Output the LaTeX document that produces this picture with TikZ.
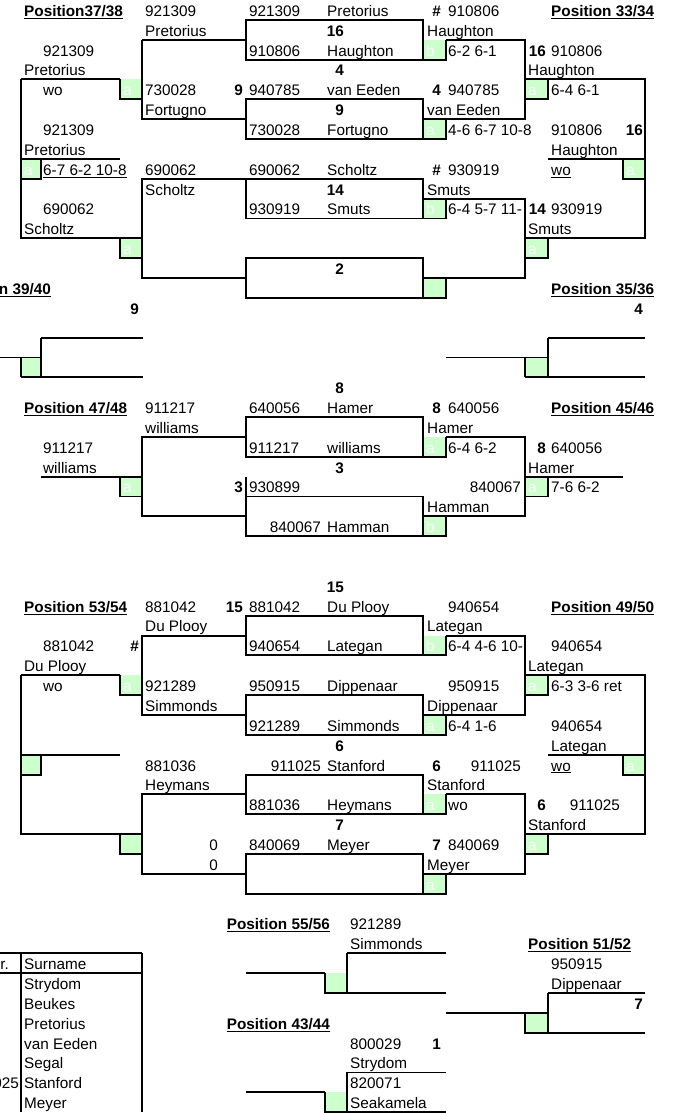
\documentclass[tikz,border=0pt]{standalone}
\usepackage{fontspec}
\setmainfont{Liberation Sans}

\definecolor{cellgreen}{RGB}{204,255,204}

\newcounter{cellno}
\newcommand{\cell}[4][]{\stepcounter{cellno}\node[txt,#1] (c\arabic{cellno}) at (#2,#3+0.82) {#4};}
\newcommand{\gbox}[3]{\fill[cellgreen] (#1,#3) rectangle (#2,#3+1);}

\begin{document}
\fontsize{15.3}{18}\selectfont
\begin{tikzpicture}[x=1pt, y=-19.86pt,
  txt/.style={anchor=base west, inner sep=0pt},
  rgt/.style={anchor=base east},
  seed/.style={anchor=base east, font=\bfseries},
  posn/.style={font=\bfseries},
  lett/.style={text=white},
  brd/.style={line width=1.9pt, line join=miter}]
  \useasboundingbox (0,0) rectangle (680,56.04);
  \clip (0,0) rectangle (680,56.04);

  % green cells
  \gbox{423}{446}{2} \gbox{120}{142}{4} \gbox{525}{548}{4} \gbox{423}{446}{6}
  \gbox{21}{41}{8} \gbox{623}{645}{8} \gbox{423}{446}{10} \gbox{120}{142}{12}
  \gbox{525}{548}{12} \gbox{423}{446}{14} \gbox{21}{41}{18} \gbox{525}{548}{18}
  \gbox{423}{446}{22} \gbox{120}{142}{24} \gbox{525}{548}{24} \gbox{423}{446}{26}
  \gbox{423}{446}{32} \gbox{120}{142}{34} \gbox{525}{548}{34} \gbox{423}{446}{36}
  \gbox{21}{41}{38} \gbox{623}{645}{38} \gbox{423}{446}{40} \gbox{120}{142}{42}
  \gbox{525}{548}{42} \gbox{423}{446}{44} \gbox{325}{347}{49} \gbox{525}{548}{51}
  \gbox{325}{347}{55}

  % top section
  \draw[brd] (21,4) -- (120,4);
  \draw[brd] (21,4) -- (21,12) -- (142,12);
  \draw[brd] (120,4) -- (120,5) -- (142,5);
  \draw[brd] (120,12) -- (120,13) -- (142,13);
  \draw[brd] (21,8) -- (120,8);
  \draw[brd] (41,8) -- (41,9) -- (21,9);
  \draw[brd] (142,2) -- (246,2);
  \draw[brd] (142,2) -- (142,6) -- (246,6);
  \draw[brd] (246,1) rectangle (423,3);
  \draw[brd] (446,2) -- (446,3) -- (423,3);
  \draw[brd] (246,5) rectangle (423,7);
  \draw[brd] (446,6) -- (446,7) -- (423,7);
  \draw[brd] (446,2) -- (525,2) -- (525,6) -- (423,6);
  \draw[brd] (246,9) rectangle (423,11);
  \draw[brd] (246,9) -- (142,9) -- (142,14) -- (246,14);
  \draw[brd] (446,10) -- (446,11) -- (423,11);
  \draw[brd] (423,10) -- (525,10) -- (525,14) -- (423,14);
  \draw[brd] (246,13) rectangle (423,15);
  \draw[brd] (423,15) -- (446,15) -- (446,14);
  \draw[brd] (525,4) -- (645,4) -- (645,12) -- (525,12);
  \draw[brd] (548,4) -- (548,5) -- (525,5);
  \draw[brd] (548,12) -- (548,13) -- (525,13);
  \draw[brd] (548,8) -- (645,8);
  \draw[brd] (623,8) -- (623,9) -- (645,9);

  % positions 39/40 and 35/36
  \draw[brd] (0,18) -- (41,18);
  \draw[brd] (21,18) -- (21,19);
  \draw[brd] (41,17) -- (41,19);
  \draw[brd] (41,17) -- (143,17);
  \draw[brd] (21,19) -- (143,19);
  \draw[brd] (446,18) -- (548,18);
  \draw[brd] (525,18) -- (525,19);
  \draw[brd] (548,17) -- (548,19);
  \draw[brd] (548,17) -- (645,17);
  \draw[brd] (525,19) -- (645,19);

  % middle section
  \draw[brd] (246,21) rectangle (423,23);
  \draw[brd] (446,22) -- (446,23) -- (423,23);
  \draw[brd] (446,22) -- (525,22) -- (525,26) -- (423,26);
  \draw[brd] (246,22) -- (142,22) -- (142,26) -- (246,26);
  \draw[brd] (41,24) -- (142,24);
  \draw[brd] (120,24) -- (120,25) -- (142,25);
  \draw[brd] (246,24) -- (246,27) -- (423,27) -- (423,25) -- (246,25);
  \draw[brd] (446,26) -- (446,27) -- (423,27);
  \draw[brd] (525,24) -- (623,24);
  \draw[brd] (548,24) -- (548,25) -- (525,25);

  % bottom section
  \draw[brd] (246,31) rectangle (423,33);
  \draw[brd] (246,32) -- (142,32) -- (142,36) -- (246,36);
  \draw[brd] (446,32) -- (446,33) -- (423,33);
  \draw[brd] (446,32) -- (525,32) -- (525,36) -- (423,36);
  \draw[brd] (246,35) rectangle (423,37);
  \draw[brd] (446,36) -- (446,37) -- (423,37);
  \draw[brd] (21,34) -- (120,34);
  \draw[brd] (120,34) -- (120,35) -- (142,35);
  \draw[brd] (21,34) -- (21,42) -- (142,42);
  \draw[brd] (21,38) -- (120,38);
  \draw[brd] (41,38) -- (41,39) -- (21,39);
  \draw[brd] (120,42) -- (120,43) -- (142,43);
  \draw[brd] (525,34) -- (645,34) -- (645,42) -- (525,42);
  \draw[brd] (548,34) -- (548,35) -- (525,35);
  \draw[brd] (548,38) -- (645,38);
  \draw[brd] (623,38) -- (623,39) -- (645,39);
  \draw[brd] (548,42) -- (548,43) -- (525,43);
  \draw[brd] (246,39) rectangle (423,41);
  \draw[brd] (246,40) -- (142,40) -- (142,44) -- (246,44);
  \draw[brd] (446,40) -- (446,41) -- (423,41);
  \draw[brd] (446,40) -- (525,40) -- (525,44) -- (423,44);
  \draw[brd] (246,43) rectangle (423,45);
  \draw[brd] (423,45) -- (446,45) -- (446,44);

  % places 55/56, 43/44, 51/52 and the list
  \draw[brd] (347,48) -- (446,48);
  \draw[brd] (347,48) -- (347,50);
  \draw[brd] (246,49) -- (325,49);
  \draw[brd] (325,49) -- (325,50) -- (446,50);
  \draw[brd] (347,54) -- (446,54);
  \draw[brd] (347,54) -- (347,56);
  \draw[brd] (246,55) -- (325,55);
  \draw[brd] (325,55) -- (325,56) -- (446,56);
  \draw[brd] (548,50) -- (645,50);
  \draw[brd] (548,50) -- (548,52);
  \draw[brd] (446,51) -- (548,51);
  \draw[brd] (525,51) -- (525,52) -- (645,52);
  \draw[brd] (0,48) -- (142,48);
  \draw[brd] (0,49) -- (142,49);
  \draw[brd] (21,48) -- (21,56);
  \draw[brd] (142,48) -- (142,56);

  % letters in the green cells
  \cell[lett]{426}{2}{b} \cell[lett]{123}{4}{a} \cell[lett]{528}{4}{a}
  \cell[lett]{426}{6}{a} \cell[lett]{24}{8}{a} \cell[lett]{626}{8}{a}
  \cell[lett]{426}{10}{b} \cell[lett]{123}{12}{a} \cell[lett]{528}{12}{a}
  \cell[lett]{426}{22}{a} \cell[lett]{123}{24}{a} \cell[lett]{528}{24}{a}
  \cell[lett]{426}{26}{b} \cell[lett]{426}{32}{b} \cell[lett]{123}{34}{a}
  \cell[lett]{528}{34}{a} \cell[lett]{426}{36}{a} \cell[lett]{626}{38}{a}
  \cell[lett]{426}{40}{a} \cell[lett]{528}{42}{a} \cell[lett]{426}{44}{a}

  % rows 0-15
  \cell[posn]{24}{0}{\underline{Position37/38}}
  \cell{145}{0}{921309} \cell{249}{0}{921309} \cell{327}{0}{Pretorius}
  \cell[seed]{441}{0}{\#} \cell{448}{0}{910806}
  \cell[posn]{551}{0}{\underline{Position 33/34}}
  \cell{145}{1}{Pretorius} \cell[seed]{344}{1}{16} \cell{427}{1}{Haughton}
  \cell{43}{2}{921309} \cell{249}{2}{910806} \cell{327}{2}{Haughton}
  \cell{448}{2}{6-2 6-1} \cell[seed]{546}{2}{16} \cell{551}{2}{910806}
  \cell{24}{3}{Pretorius} \cell[seed]{344}{3}{4} \cell{528}{3}{Haughton}
  \cell{43}{4}{wo} \cell{145}{4}{730028} \cell[seed]{243}{4}{9} \cell{249}{4}{940785}
  \cell{327}{4}{van Eeden} \cell[seed]{441}{4}{4} \cell{448}{4}{940785}
  \cell{551}{4}{6-4 6-1}
  \cell{145}{5}{Fortugno} \cell[seed]{344}{5}{9} \cell{427}{5}{van Eeden}
  \cell{43}{6}{921309} \cell{249}{6}{730028} \cell{327}{6}{Fortugno}
  \cell{448}{6}{4-6 6-7 10-8} \cell{551}{6}{910806} \cell[seed]{643}{6}{16}
  \cell{24}{7}{Pretorius} \cell{551}{7}{Haughton}
  \cell{43}{8}{\underline{6-7 6-2 10-8}} \cell{145}{8}{690062} \cell{249}{8}{690062}
  \cell{327}{8}{Scholtz} \cell[seed]{441}{8}{\#} \cell{448}{8}{930919}
  \cell{551}{8}{\underline{wo}}
  \cell{145}{9}{Scholtz} \cell[seed]{344}{9}{14} \cell{427}{9}{Smuts}
  \cell{43}{10}{690062} \cell{249}{10}{930919} \cell{327}{10}{Smuts}
  \cell{448}{10}{6-4 5-7 11-} \cell[seed]{546}{10}{14} \cell{551}{10}{930919}
  \cell{24}{11}{Scholtz} \cell{528}{11}{Smuts}
  \cell[seed]{344}{13}{2}
  \cell[posn,rgt]{51}{14}{\underline{Position 39/40}}
  \cell[posn]{551}{14}{\underline{Position 35/36}}
  \cell[seed]{139}{15}{9} \cell[seed]{643}{15}{4}

  % rows 19-26
  \cell[seed]{344}{19}{8}
  \cell[posn]{24}{20}{\underline{Position 47/48}}
  \cell{145}{20}{911217} \cell{249}{20}{640056} \cell{327}{20}{Hamer}
  \cell[seed]{441}{20}{8} \cell{448}{20}{640056}
  \cell[posn]{551}{20}{\underline{Position 45/46}}
  \cell{145}{21}{williams} \cell{427}{21}{Hamer}
  \cell{43}{22}{911217} \cell{249}{22}{911217} \cell{327}{22}{williams}
  \cell{448}{22}{6-4 6-2} \cell[seed]{546}{22}{8} \cell{551}{22}{640056}
  \cell{43}{23}{williams} \cell[seed]{344}{23}{3} \cell{528}{23}{Hamer}
  \cell[seed]{243}{24}{3} \cell{249}{24}{930899} \cell[rgt]{521}{24}{840067}
  \cell{551}{24}{7-6 6-2}
  \cell{427}{25}{Hamman}
  \cell[rgt]{321}{26}{840067} \cell{327}{26}{Hamman}

  % rows 29-43
  \cell[seed]{344}{29}{15}
  \cell[posn]{24}{30}{\underline{Position 53/54}}
  \cell{145}{30}{881042} \cell[seed]{243}{30}{15} \cell{249}{30}{881042}
  \cell{327}{30}{Du Plooy} \cell{448}{30}{940654}
  \cell[posn]{551}{30}{\underline{Position 49/50}}
  \cell{145}{31}{Du Plooy} \cell{427}{31}{Lategan}
  \cell{43}{32}{881042} \cell[seed]{139}{32}{\#} \cell{249}{32}{940654}
  \cell{327}{32}{Lategan} \cell{448}{32}{6-4 4-6 10-} \cell{551}{32}{940654}
  \cell{24}{33}{Du Plooy} \cell{528}{33}{Lategan}
  \cell{43}{34}{wo} \cell{145}{34}{921289} \cell{249}{34}{950915}
  \cell{327}{34}{Dippenaar} \cell{448}{34}{950915} \cell{551}{34}{6-3 3-6 ret}
  \cell{145}{35}{Simmonds} \cell{427}{35}{Dippenaar}
  \cell{249}{36}{921289} \cell{327}{36}{Simmonds} \cell{448}{36}{6-4 1-6}
  \cell{551}{36}{940654}
  \cell[seed]{344}{37}{6} \cell{551}{37}{Lategan}
  \cell{145}{38}{881036} \cell[rgt]{321}{38}{911025} \cell{327}{38}{Stanford}
  \cell[seed]{441}{38}{6} \cell[rgt]{521}{38}{911025} \cell{551}{38}{\underline{wo}}
  \cell{145}{39}{Heymans} \cell{427}{39}{Stanford}
  \cell{249}{40}{881036} \cell{327}{40}{Heymans} \cell{448}{40}{wo}
  \cell[seed]{546}{40}{6} \cell[rgt]{620}{40}{911025}
  \cell[seed]{344}{41}{7} \cell{528}{41}{Stanford}
  \cell[rgt]{218}{42}{0} \cell{249}{42}{840069} \cell{327}{42}{Meyer}
  \cell[seed]{441}{42}{7} \cell{448}{42}{840069}
  \cell[rgt]{218}{43}{0} \cell{427}{43}{Meyer}

  % rows 46-55
  \cell[posn,rgt]{330}{46}{\underline{Position 55/56}} \cell{350}{46}{921289}
  \cell{350}{47}{Simmonds} \cell[posn]{528}{47}{\underline{Position 51/52}}
  \cell[rgt]{9}{48}{Nr.} \cell{24}{48}{Surname} \cell{551}{48}{950915}
  \cell{24}{49}{Strydom} \cell{551}{49}{Dippenaar}
  \cell{24}{50}{Beukes} \cell[seed]{643}{50}{7}
  \cell{24}{51}{Pretorius} \cell[posn,rgt]{330}{51}{\underline{Position 43/44}}
  \cell{24}{52}{van Eeden} \cell{350}{52}{800029} \cell[seed]{441}{52}{1}
  \cell{24}{53}{Segal} \cell{350}{53}{Strydom}
  \cell[rgt]{19}{54}{911025} \cell{24}{54}{Stanford} \cell{350}{54}{820071}
  \cell{24}{55}{Meyer} \cell{350}{55}{Seakamela}
\end{tikzpicture}
\end{document}
